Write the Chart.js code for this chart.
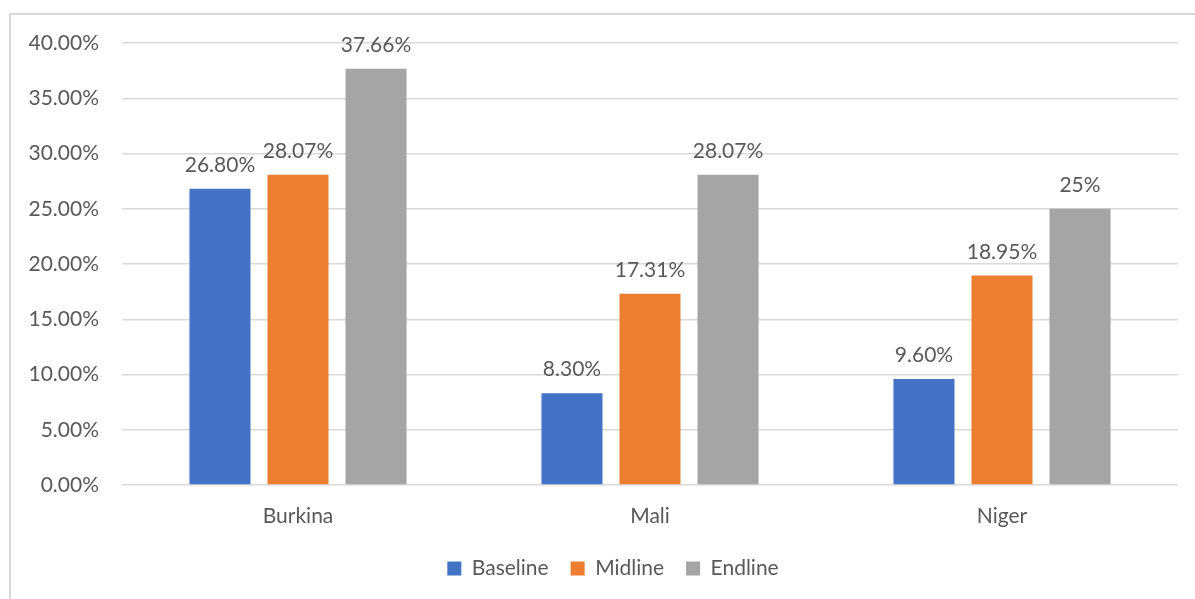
<!DOCTYPE html>
<html>
<head>
<meta charset="utf-8">
<script src="https://cdn.jsdelivr.net/npm/chart.js@4.4.1/dist/chart.umd.min.js"></script>
<style>
  html, body { margin: 0; padding: 0; background: #fff; overflow: hidden; }
  #frame {
    position: absolute; left: 9px; top: 13px;
    width: 1300px; height: 700px;
    border: 2px solid #d9d9d9; box-sizing: border-box;
  }
  #wrap { position: absolute; left: 0; top: 0; width: 1216px; height: 599px; }
</style>
</head>
<body>
<div id="frame"></div>
<div id="wrap"><canvas id="chart"></canvas></div>
<script>
var countries = ['Burkina', 'Mali', 'Niger'];
var baseline = [26.80, 8.30, 9.60];
var midline = [28.07, 17.31, 18.95];
var endline = [37.66, 28.07, 25];
var baselineLabels = ['26.80%', '8.30%', '9.60%'];
var midlineLabels = ['28.07%', '17.31%', '18.95%'];
var endlineLabels = ['37.66%', '28.07%', '25%'];
var yTicks = [0, 5, 10, 15, 20, 25, 30, 35, 40];

var textColor = '#595959';
var fontFamily = 'Lato, "Open Sans", sans-serif';

// draws the value text above each bar
var barValues = {
    id: 'barValues',
    afterDatasetsDraw: function (chart) {
        var ctx = chart.ctx;
        ctx.save();
        ctx.fillStyle = textColor;
        ctx.font = '21px ' + fontFamily;
        ctx.textAlign = 'center';
        ctx.textBaseline = 'alphabetic';
        chart.data.datasets.forEach(function (ds, i) {
            chart.getDatasetMeta(i).data.forEach(function (bar, j) {
                ctx.fillText(ds.valueLabels[j], bar.x, bar.y - 17);
            });
        });
        ctx.restore();
    }
};

new Chart(document.getElementById('chart'), {
    type: 'bar',
    data: {
        labels: countries,
        datasets: [
            { label: 'Baseline', data: baseline, valueLabels: baselineLabels, backgroundColor: '#4472c4' },
            { label: 'Midline', data: midline, valueLabels: midlineLabels, backgroundColor: '#ed7d31' },
            { label: 'Endline', data: endline, valueLabels: endlineLabels, backgroundColor: '#a5a5a5' }
        ]
    },
    options: {
        responsive: true,
        maintainAspectRatio: false,
        animation: false,
        events: [],
        layout: { padding: { left: 10, top: 43, right: 0, bottom: 10 } },
        datasets: {
            bar: { categoryPercentage: 0.665, barPercentage: 0.782 }
        },
        scales: {
            x: {
                grid: { display: false },
                border: { display: false },
                ticks: { color: textColor, font: { family: fontFamily, size: 21 }, padding: 11 },
                afterFit: function (scale) { scale.height = 51; }
            },
            y: {
                min: 0,
                max: 40,
                afterBuildTicks: function (scale) {
                    scale.ticks = yTicks.map(function (v) { return { value: v }; });
                },
                grid: { color: '#d9d9d9', lineWidth: 1.5, drawTicks: false },
                border: { display: false },
                ticks: {
                    color: textColor,
                    font: { family: fontFamily, size: 21 },
                    padding: 23,
                    callback: function (v) { return v.toFixed(2) + '%'; }
                },
                afterFit: function (scale) { scale.width = 112; }
            },
            spacer: {
                position: 'right',
                display: true,
                grid: { display: false },
                border: { display: false },
                ticks: { display: false },
                afterFit: function (scale) { scale.width = 38; }
            }
        },
        plugins: {
            legend: {
                position: 'bottom',
                labels: {
                    color: textColor,
                    font: { family: fontFamily, size: 21 },
                    boxWidth: 14,
                    boxHeight: 14,
                    padding: 22
                }
            },
            tooltip: { enabled: false }
        }
    },
    plugins: [barValues]
});
</script>
</body>
</html>
